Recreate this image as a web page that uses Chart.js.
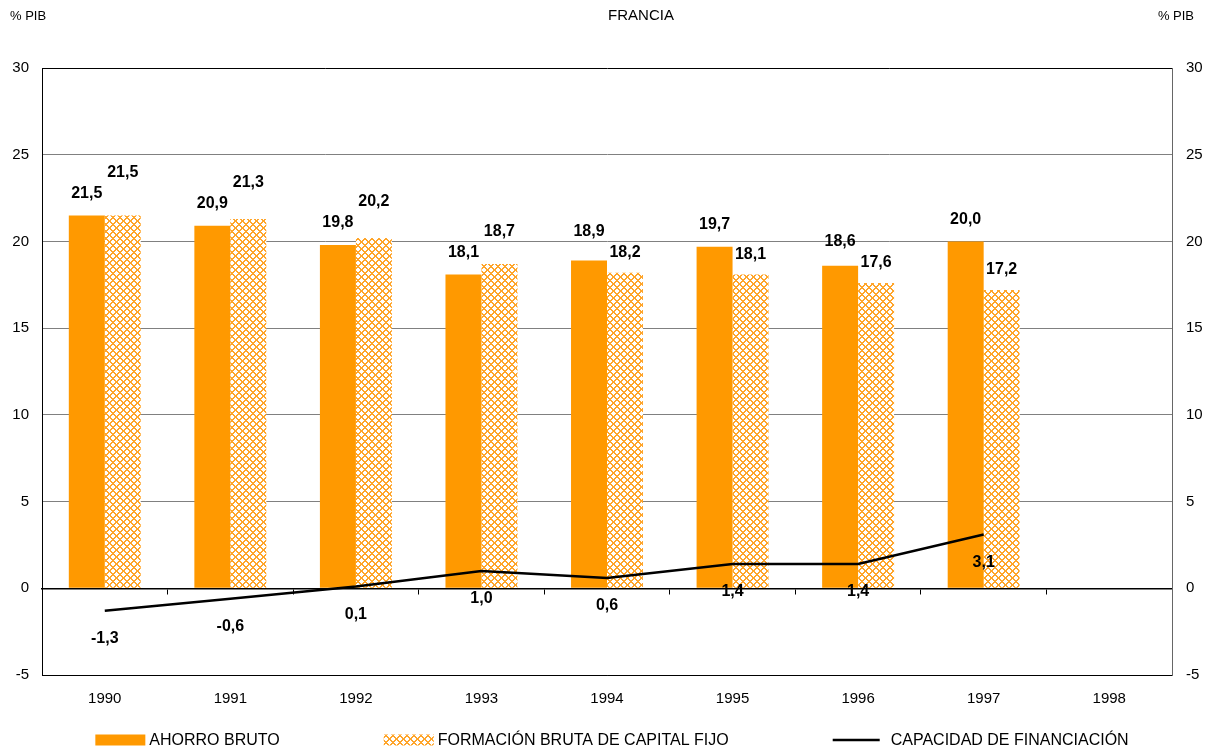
<!DOCTYPE html>
<html><head><meta charset="utf-8">
<script src="https://cdn.jsdelivr.net/npm/chart.js@4/dist/chart.umd.min.js"></script>
<style>html,body{margin:0;padding:0;background:#fff;}#wrap{width:1210px;height:751px;}</style>
</head><body><div id="wrap"><canvas id="c" width="1210" height="751"></canvas></div>
<script>
// ---- data ----
const chartTitle = 'FRANCIA';
const unitLabel = '% PIB';
const years = ['1990','1991','1992','1993','1994','1995','1996','1997','1998'];
const ahorroBruto = [21.5, 20.9, 19.8, 18.1, 18.9, 19.7, 18.6, 20.0, null];
const formacionBrutaCapitalFijo = [21.5, 21.3, 20.2, 18.7, 18.2, 18.1, 17.6, 17.2, null];
const capacidadFinanciacion = [-1.3, -0.6, 0.1, 1.0, 0.6, 1.4, 1.4, 3.1, null];
const seriesNames = ['AHORRO BRUTO', 'FORMACIÓN BRUTA DE CAPITAL FIJO', 'CAPACIDAD DE FINANCIACIÓN'];
const yMin = -5, yMax = 30, yStep = 5;

// ---- styles ----
const ORANGE = '#FF9900';
const FONT = "'Liberation Sans', Arial, sans-serif";
Chart.defaults.font.family = FONT;
Chart.defaults.color = '#000';

function makePattern(ctx) {
  const s = 7;
  const c = document.createElement('canvas'); c.width = s; c.height = s;
  const g = c.getContext('2d');
  g.fillStyle = '#ffffff'; g.fillRect(0, 0, s, s);
  g.fillStyle = '#FFA52A';
  for (let x = 0; x < s; x++) for (let y = 0; y < s; y++) {
    if ((x + y) % s < 2 || (x - y + 2 * s) % s < 2) g.fillRect(x, y, 1, 1);
  }
  return ctx.createPattern(c, 'repeat');
}
const canvas = document.getElementById('c');
const ctx0 = canvas.getContext('2d');
const hatch = makePattern(ctx0);

const fmt = v => v.toFixed(1).replace('.', ',');

const labelsPlugin = {
  id: 'valueLabels',
  afterDatasetsDraw(chart) {
    const ctx = chart.ctx;
    ctx.save();
    ctx.font = 'bold 16px ' + FONT;
    ctx.fillStyle = '#000';
    ctx.textAlign = 'center';
    ctx.textBaseline = 'middle';
    const m0 = chart.getDatasetMeta(0), m1 = chart.getDatasetMeta(1), m2 = chart.getDatasetMeta(2);
    const gap = 21;
    for (let i = 0; i < years.length; i++) {
      const a = ahorroBruto[i], b = formacionBrutaCapitalFijo[i];
      if (a != null && b != null) {
        const ea = m0.data[i], eb = m1.data[i];
        let ya = ea.y - 22, yb = eb.y - 20;
        if (Math.abs(ya - yb) < gap) {
          if (b >= a) yb = ya - gap; else ya = yb - gap;
        }
        ctx.fillText(fmt(a), ea.x, ya);
        ctx.fillText(fmt(b), eb.x, yb);
      }
      const c = capacidadFinanciacion[i];
      if (c != null) {
        const ec = m2.data[i];
        ctx.fillText(fmt(c), ec.x, ec.y + 28);
      }
    }
    ctx.restore();
  }
};

const decorPlugin = {
  id: 'decor',
  afterDraw(chart) {
    const ctx = chart.ctx;
    const W = chart.width;
    ctx.save();
    ctx.fillStyle = '#000';
    ctx.textBaseline = 'middle';
    ctx.font = '13px ' + FONT;
    ctx.textAlign = 'left';
    ctx.fillText(unitLabel, 10, 16);
    ctx.textAlign = 'right';
    ctx.fillText(unitLabel, 1194, 16);
    ctx.font = '15px ' + FONT;
    ctx.textAlign = 'center';
    ctx.fillText(chartTitle, chart.chartArea.left + (chart.chartArea.right - chart.chartArea.left) / 2 + 34, 16);

    // legend
    ctx.font = '16px ' + FONT;
    const boxW = 50, boxH = 11, txtGap = 4, itemGap = 104;
    const widths = seriesNames.map(n => boxW + txtGap + ctx.measureText(n).width);
    const total = widths.reduce((s, w) => s + w, 0) + itemGap * (widths.length - 1);
    let x = 610 - total / 2;
    const y = 740;
    ctx.textAlign = 'left';
    seriesNames.forEach((n, i) => {
      if (i === 0) { ctx.fillStyle = ORANGE; ctx.fillRect(x, y - 5.5, boxW, boxH); }
      else if (i === 1) { ctx.fillStyle = hatch; ctx.fillRect(x, y - 5.5, boxW, boxH); }
      else { ctx.strokeStyle = '#000'; ctx.lineWidth = 2.5; ctx.beginPath(); ctx.moveTo(x, y); ctx.lineTo(x + boxW - 3, y); ctx.stroke(); }
      ctx.fillStyle = '#000';
      ctx.fillText(n, x + boxW + txtGap + (i === 2 ? 4 : 0), y + 1);
      x += widths[i] + itemGap;
    });
    ctx.restore();
  }
};

new Chart(canvas, {
  data: {
    labels: years,
    datasets: [
      { type: 'bar', label: seriesNames[0], data: ahorroBruto, backgroundColor: ORANGE, borderWidth: 0,
        barPercentage: 1, categoryPercentage: 0.573, yAxisID: 'y', xAxisID: 'x', order: 2 },
      { type: 'bar', label: seriesNames[1], data: formacionBrutaCapitalFijo, backgroundColor: hatch, borderWidth: 0,
        barPercentage: 1, categoryPercentage: 0.573, yAxisID: 'y', xAxisID: 'x', order: 2 },
      { type: 'line', label: seriesNames[2], data: capacidadFinanciacion, borderColor: '#000', borderWidth: 2.5,
        pointRadius: 0, tension: 0, fill: false, yAxisID: 'y', xAxisID: 'x', order: 1 }
    ]
  },
  options: {
    responsive: false,
    animation: false,
    devicePixelRatio: 1,
    layout: { padding: { top: 68, bottom: 46, left: 0, right: 0 } },
    plugins: { legend: { display: false }, tooltip: { enabled: false }, title: { display: false } },
    scales: {
      x: {
        type: 'category', position: 'bottom', offset: true,
        grid: { display: false, drawTicks: false },
        border: { display: true, color: '#000', width: 1 },
        ticks: { padding: 15, font: { size: 15 }, color: '#000', maxRotation: 0 },
        afterFit(s) { s.height = 30; }
      },
      x0: {
        type: 'category', axis: 'x', labels: years, position: { y: 0 }, offset: true,
        grid: { offset: true, drawOnChartArea: false, drawTicks: true, tickLength: 5, color: '#000', lineWidth: 1 },
        border: { display: true, color: '#000', width: 1.5 },
        ticks: { display: false }
      },
      y: {
        position: 'left', min: yMin, max: yMax,
        ticks: { stepSize: yStep, padding: 13, font: { size: 15 }, color: '#000' },
        grid: {
          drawTicks: false,
          color: c => (c.tick && (c.tick.value === yMax || c.tick.value === yMin)) ? '#000' : '#808080',
          lineWidth: 1
        },
        border: { display: true, color: '#000', width: 1 },
        afterFit(s) { s.width = 42; }
      },
      y2: {
        position: 'right', min: yMin, max: yMax,
        ticks: { stepSize: yStep, padding: 14, font: { size: 15 }, color: '#000' },
        grid: { display: false, drawTicks: false },
        border: { display: true, color: '#666', width: 1 },
        afterFit(s) { s.width = 38; }
      }
    }
  },
  plugins: [labelsPlugin, decorPlugin]
});
</script>
</body></html>
